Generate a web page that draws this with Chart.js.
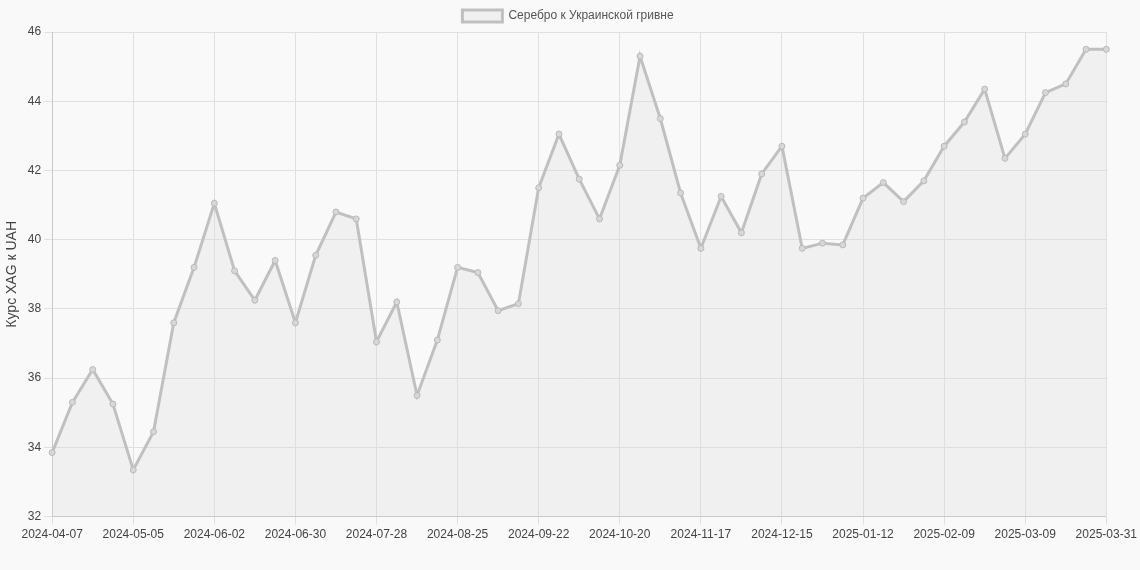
<!DOCTYPE html>
<html>
<head>
<meta charset="utf-8">
<script src="https://cdn.jsdelivr.net/npm/chart.js@4"></script>
<style>
  html, body { margin: 0; padding: 0; background: #f9f9f9; }
  #wrap { width: 1140px; height: 570px; }
</style>
</head>
<body>
<div id="wrap"><canvas id="chart"></canvas></div>
<script>
const dates = [
    '2024-04-07', '2024-04-14', '2024-04-21', '2024-04-28', '2024-05-05', '2024-05-12', '2024-05-19', '2024-05-26',
    '2024-06-02', '2024-06-09', '2024-06-16', '2024-06-23', '2024-06-30', '2024-07-07', '2024-07-14', '2024-07-21',
    '2024-07-28', '2024-08-04', '2024-08-11', '2024-08-18', '2024-08-25', '2024-09-01', '2024-09-08', '2024-09-15',
    '2024-09-22', '2024-09-29', '2024-10-06', '2024-10-13', '2024-10-20', '2024-10-27', '2024-11-03', '2024-11-10',
    '2024-11-17', '2024-11-24', '2024-12-01', '2024-12-08', '2024-12-15', '2024-12-22', '2024-12-29', '2025-01-05',
    '2025-01-12', '2025-01-19', '2025-01-26', '2025-02-02', '2025-02-09', '2025-02-16', '2025-02-23', '2025-03-02',
    '2025-03-09', '2025-03-16', '2025-03-23', '2025-03-30', '2025-03-31'
];
const rates = [
    33.85, 35.3, 36.25, 35.25, 33.35, 34.45, 37.6, 39.2, 41.05, 39.1, 38.25, 39.4, 37.6, 39.55, 40.8, 40.6,
    37.05, 38.2, 35.5, 37.1, 39.2, 39.05, 37.95, 38.15, 41.5, 43.05, 41.75, 40.6, 42.15, 45.3, 43.5, 41.35,
    39.75, 41.25, 40.2, 41.9, 42.7, 39.75, 39.9, 39.85, 41.2, 41.65, 41.1, 41.7, 42.7, 43.4, 44.35, 42.35,
    43.05, 44.25, 44.5, 45.5, 45.5
];

new Chart(document.getElementById('chart'), {
    type: 'line',
    data: {
        labels: dates,
        datasets: [{
            label: 'Серебро к Украинской гривне',
            data: rates,
            borderColor: 'rgba(192,192,192,1)',
            backgroundColor: 'rgba(220,220,220,0.3)',
            borderWidth: 3,
            fill: true,
            tension: 0,
            pointRadius: 3,
            pointBackgroundColor: 'rgba(215,215,215,1)',
            pointBorderColor: 'rgba(185,185,185,1)',
            pointBorderWidth: 1
        }]
    },
    options: {
        responsive: true,
        maintainAspectRatio: false,
        animation: false,
        layout: { padding: { right: 4, bottom: 25 } },
        plugins: {
            legend: {
                position: 'top',
                labels: { color: '#555', font: { family: 'Arial, Liberation Sans', size: 12 } }
            }
        },
        scales: {
            x: {
                grid: { color: '#e0e0e0' },
                ticks: {
                    color: '#444',
                    autoSkip: false,
                    maxRotation: 0,
                    font: { family: 'Arial, Liberation Sans', size: 12 },
                    callback: function (value, index) {
                        return (index % 4 === 0 || index === dates.length - 1) ? dates[index] : null;
                    }
                }
            },
            y: {
                min: 32,
                max: 46,
                grid: { color: '#e0e0e0' },
                ticks: { stepSize: 2, color: '#444', font: { family: 'Arial, Liberation Sans', size: 12 } },
                title: {
                    display: true,
                    text: 'Курс XAG к UAH',
                    color: '#444',
                    font: { family: 'Arial, Liberation Sans', size: 14 }
                }
            }
        }
    }
});
</script>
</body>
</html>
